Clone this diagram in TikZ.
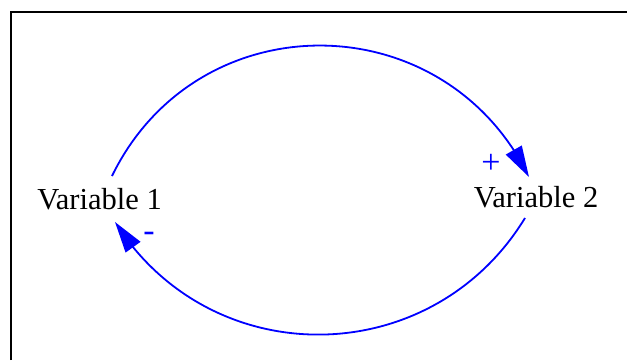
\documentclass[tikz,border=0pt]{standalone}
\usepackage{fontspec}
\setmainfont{Liberation Serif}
\usetikzlibrary{arrows.meta,bending,calc}
\definecolor{ink}{HTML}{000000}
\definecolor{linkblue}{HTML}{0000FF}

\begin{document}
\begin{tikzpicture}[
  x=1pt, y=1pt,
  font=\fontsize{30.5}{35}\selectfont,
  >={Triangle[length=31pt, width=18pt]},
  varname/.style={text=ink, inner sep=0pt, anchor=base},
  link/.style={->, draw=linkblue, line width=1.8pt},
  polarity/.style={text=linkblue, inner sep=0pt, anchor=base, font=\fontsize{34}{38}\selectfont}
]
\useasboundingbox (0,0) rectangle (627,360);
\draw[ink, line width=2pt] (11,0) |- (627,348);

% variables
\node[varname] (v1) at (99.5,151) {Variable 1};
\node[varname] (v2) at (536,153) {Variable 2};

% causal links
\draw[link] ($(v1.base)+(12.5,33)$) to[out=64, in=116, looseness=1.19] ($(v2.base)+(-7,30)$);
\draw[link] ($(v2.base)+(-11,-11)$) to[out=238.6, in=302.2, looseness=1.12] ($(v1.base)+(15.5,-13)$);

% polarities
\node[polarity] (p2) at ($(v2.base)+(-45,33.5)$) {+};
\node[polarity] (p1) at ($(v1.base)+(49.5,-32)$) {-};

\end{tikzpicture}
\end{document}
